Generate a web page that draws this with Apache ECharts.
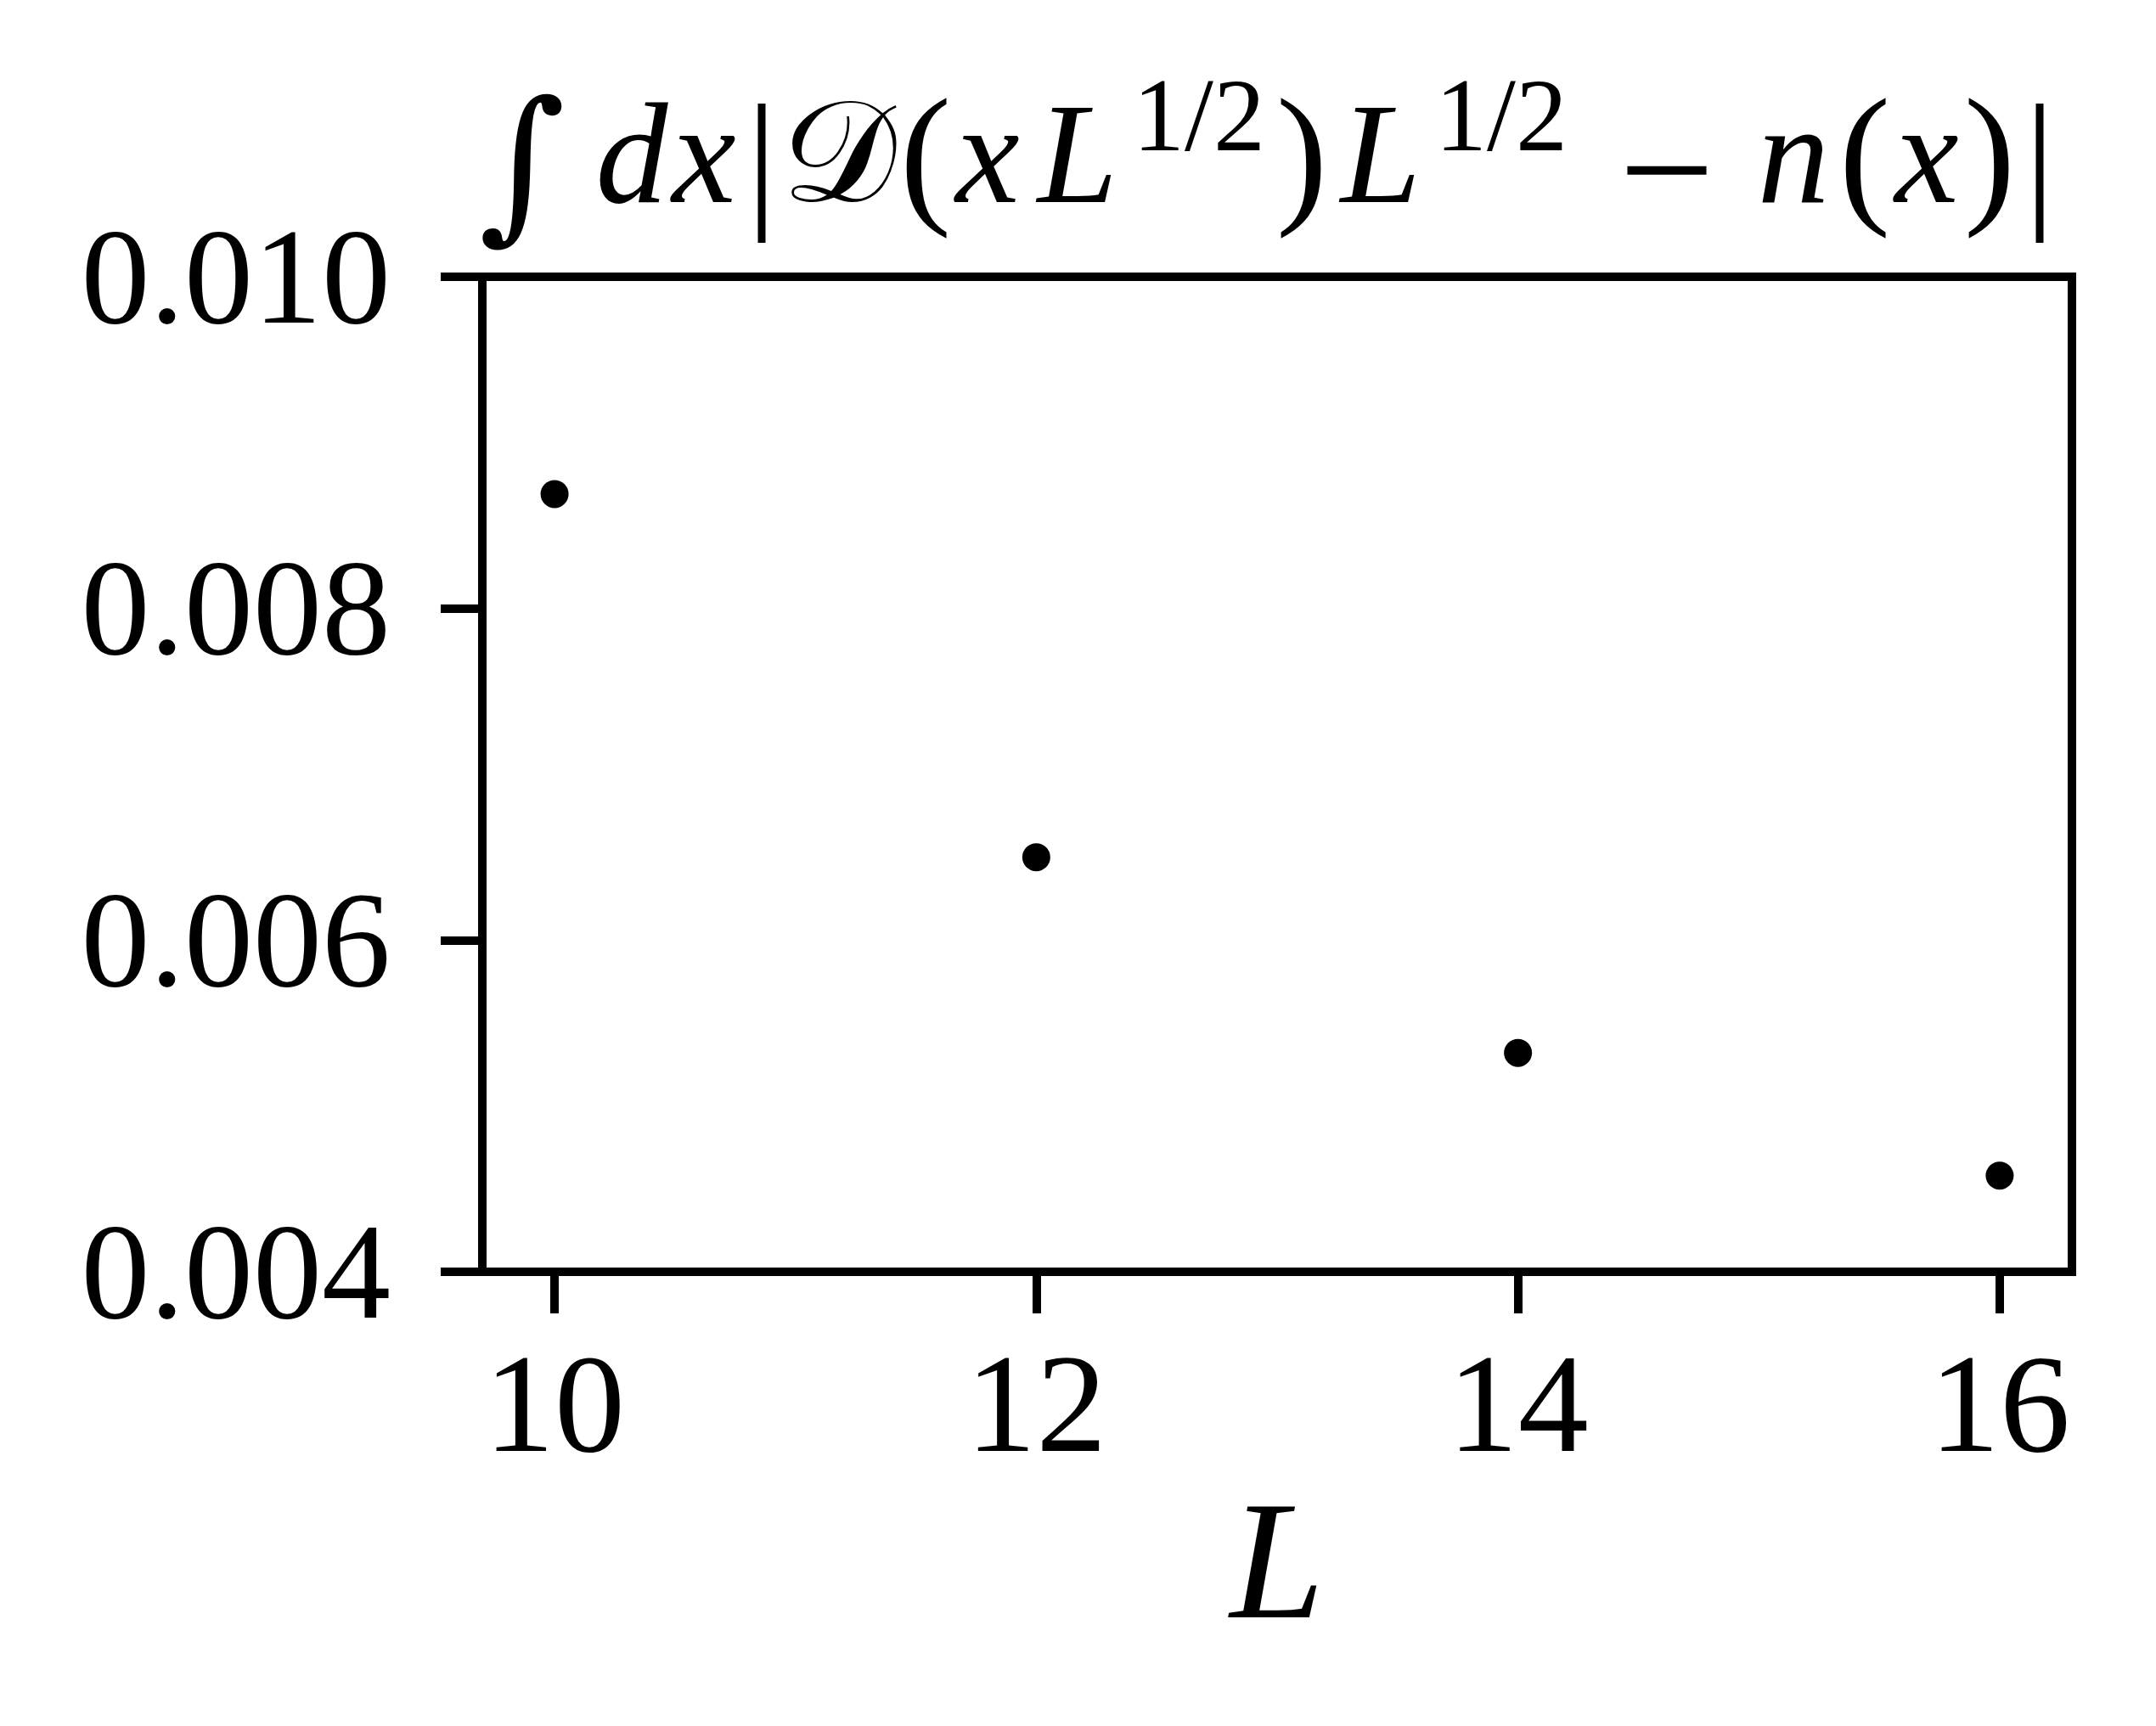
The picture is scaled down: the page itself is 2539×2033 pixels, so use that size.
<!DOCTYPE html>
<html>
<head>
<meta charset="utf-8">
<script src="https://cdn.jsdelivr.net/npm/echarts@6/dist/echarts.min.js"></script>
<style>
  html, body { margin: 0; padding: 0; background: #fff; }
  #chart { width: 2539px; height: 2033px; }
</style>
</head>
<body>
<div id="chart"></div>
<script>
// data
const sizesL = [10, 12, 14, 16];
const deviation = [0.00869, 0.00650, 0.00532, 0.00458];
const xTicks = [10, 12, 14, 16];

const serif = "Liberation Serif";
const base = 245;   // title baseline
const supBase = 182;

// title pieces: text, ink centre x, baseline, size, family, style
const titleParts = [
  { t: "∫", x: 615, b: 268, s: 196, f: "DejaVu Serif", st: "normal" },
  { t: "d", x: 744, b: base, s: 170, f: serif, st: "italic" },
  { t: "x", x: 829, b: base, s: 170, f: serif, st: "italic" },
  { t: "|", x: 897, b: 255, s: 180, f: serif, st: "normal" },
  { t: "𝒟", x: 988, b: base, s: 170, f: "DejaVu Serif", st: "normal" },
  { t: "(", x: 1090, b: 250, s: 182, f: serif, st: "normal" },
  { t: "x", x: 1163, b: base, s: 170, f: serif, st: "italic" },
  { t: "L", x: 1269, b: base, s: 170, f: serif, st: "italic" },
  { t: "1/2", x: 1412, b: supBase, s: 122, f: serif, st: "normal" },
  { t: ")", x: 1533, b: 250, s: 182, f: serif, st: "normal" },
  { t: "L", x: 1626, b: base, s: 170, f: serif, st: "italic" },
  { t: "1/2", x: 1768, b: supBase, s: 122, f: serif, st: "normal" },
  { t: "−", x: 1963, b: 275, s: 200, f: serif, st: "normal" },
  { t: "n", x: 2112, b: base, s: 170, f: serif, st: "italic" },
  { t: "(", x: 2196, b: 250, s: 182, f: serif, st: "normal" },
  { t: "x", x: 2269, b: base, s: 170, f: serif, st: "italic" },
  { t: ")", x: 2343, b: 250, s: 182, f: serif, st: "normal" },
  { t: "|", x: 2402, b: 255, s: 180, f: serif, st: "normal" }
];

const chart = echarts.init(document.getElementById("chart"), null, { renderer: "canvas" });

const option = {
  backgroundColor: "#fff",
  animation: false,
  grid: {
    left: 568, right: 99, top: 326, bottom: 535,
    show: true, borderColor: "#000", borderWidth: 10, backgroundColor: "transparent"
  },
  graphic: titleParts.map((p) => ({
    type: "text",
    style: {
      text: p.t,
      x: p.x,
      y: p.b - 0.305 * p.s,
      align: "center",
      verticalAlign: "middle",
      fontFamily: p.f,
      fontStyle: p.st,
      fontSize: p.s,
      fill: "#000"
    }
  })),
  xAxis: {
    type: "value",
    min: 9.7,
    max: 16.3,
    name: "L",
    nameLocation: "middle",
    nameGap: 206,
    nameTextStyle: { fontFamily: serif, fontStyle: "italic", fontSize: 200, color: "#000" },
    axisLine: { show: true, lineStyle: { color: "#000", width: 10 } },
    axisTick: { show: true, inside: false, length: 49, lineStyle: { color: "#000", width: 10 }, customValues: xTicks },
    axisLabel: {
      show: true, margin: 84, customValues: xTicks,
      fontFamily: serif, fontSize: 166, color: "#000"
    },
    splitLine: { show: false }
  },
  yAxis: {
    type: "value",
    min: 0.004,
    max: 0.010,
    interval: 0.002,
    axisLine: { show: true, lineStyle: { color: "#000", width: 10 } },
    axisTick: { show: true, inside: false, length: 49, lineStyle: { color: "#000", width: 10 } },
    axisLabel: {
      show: true, margin: 108,
      verticalAlign: "top",
      lineHeight: 22,
      fontFamily: serif, fontSize: 162, color: "#000",
      formatter: (v) => v.toFixed(3)
    },
    splitLine: { show: false }
  },
  series: [
    {
      type: "scatter",
      data: sizesL.map((l, i) => [l, deviation[i]]),
      symbol: "circle",
      symbolSize: 33,
      itemStyle: { color: "#000", opacity: 1 }
    }
  ]
};

chart.setOption(option);
</script>
</body>
</html>
